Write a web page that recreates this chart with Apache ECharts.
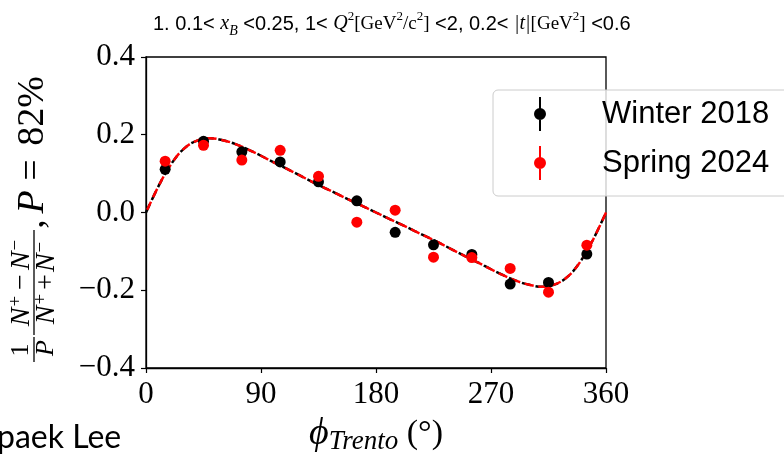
<!DOCTYPE html>
<html>
<head>
<meta charset="utf-8">
<script src="https://cdn.jsdelivr.net/npm/echarts@6/dist/echarts.min.js"></script>
<style>
html,body{margin:0;padding:0;background:#fff;}
#chart{width:784px;height:454px;}
</style>
</head>
<body>
<div id="chart"></div>
<script>
// ---- data ----
const phiBins = [15, 45, 75, 105, 135, 165, 195, 225, 255, 285, 315, 345];
const winter2018 = [0.111, 0.183, 0.156, 0.130, 0.079, 0.030, -0.051, -0.083, -0.108, -0.184, -0.180, -0.107];
const spring2024 = [0.132, 0.173, 0.135, 0.160, 0.093, -0.025, 0.006, -0.115, -0.116, -0.144, -0.205, -0.084];
const fitPhi = [0, 10, 20, 30, 40, 50, 60, 70, 80, 90, 100, 110, 120, 130, 140, 150, 160, 170, 180,
                190, 200, 210, 220, 230, 240, 250, 260, 270, 280, 290, 300, 310, 320, 330, 340, 350, 360];
const fitWinter = [0, 0.069, 0.126, 0.165, 0.185, 0.191, 0.186, 0.176, 0.162, 0.146, 0.129, 0.113, 0.096, 0.079, 0.063, 0.047, 0.031, 0.016, 0,
                   -0.016, -0.031, -0.047, -0.063, -0.079, -0.096, -0.113, -0.129, -0.146, -0.162, -0.176, -0.186, -0.191, -0.185, -0.165, -0.126, -0.069, 0];
const fitSpring = [0, 0.069, 0.126, 0.165, 0.185, 0.191, 0.186, 0.176, 0.162, 0.146, 0.129, 0.113, 0.096, 0.079, 0.063, 0.047, 0.031, 0.016, 0,
                   -0.016, -0.031, -0.047, -0.063, -0.079, -0.096, -0.113, -0.129, -0.146, -0.162, -0.176, -0.186, -0.191, -0.185, -0.165, -0.126, -0.069, 0];
const xTickLabels = ['0', '90', '180', '270', '360'];
const yTickLabels = ['\u22120.4', '\u22120.2', '0.0', '0.2', '0.4'];
const seriesNames = ['Winter 2018', 'Spring 2024'];

// ---- chart ----
const chart = echarts.init(document.getElementById('chart'), null, {renderer: 'canvas'});
const SERIF = 'Liberation Serif';
const SANS = 'Liberation Sans';
const errIcon = 'path://M5,0L7,0L7,34L5,34Z M0,17A6,6,0,1,1,12,17A6,6,0,1,1,0,17Z';

function pairs(xs, ys) { return xs.map((x, i) => [x, ys[i]]); }

const yLabelGroup = {
  type: 'group', x: 0, y: 360, rotation: Math.PI / 2, silent: true,
  children: [
    {type: 'text', x: 10, y: 21.5, style: {text: '1', font: '26px "Liberation Serif"', fill: '#000', align: 'center', verticalAlign: 'middle'}},
    {type: 'text', x: 12, y: 46.5, style: {text: 'P', font: 'italic 26px "Liberation Serif"', fill: '#000', align: 'center', verticalAlign: 'middle'}},
    {type: 'line', shape: {x1: -2, y1: 34, x2: 23, y2: 34}, style: {stroke: '#000', lineWidth: 1.3}},
    {type: 'text', x: 78, y: 22, style: {
      text: '{i|N}{p|+}{o|\u2212}{i|N}{p|\u2212}', align: 'center', verticalAlign: 'middle', fill: '#000',
      rich: {
        i: {fontFamily: SERIF, fontStyle: 'italic', fontSize: 28, lineHeight: 30},
        p: {fontFamily: SERIF, fontSize: 19, verticalAlign: 'top', padding: [0, 2, 0, 1]},
        o: {fontFamily: SERIF, fontSize: 28, padding: [0, 4], lineHeight: 30}
      }}},
    {type: 'line', shape: {x1: 25, y1: 34, x2: 130, y2: 34}, style: {stroke: '#000', lineWidth: 1.3}},
    {type: 'text', x: 78, y: 47, style: {
      text: '{i|N}{p|+}{o|+}{i|N}{p|\u2212}', align: 'center', verticalAlign: 'middle', fill: '#000',
      rich: {
        i: {fontFamily: SERIF, fontStyle: 'italic', fontSize: 28, lineHeight: 30},
        p: {fontFamily: SERIF, fontSize: 19, verticalAlign: 'top', padding: [0, 2, 0, 1]},
        o: {fontFamily: SERIF, fontSize: 28, padding: [0, 2], lineHeight: 30}
      }}},
    {type: 'text', x: 136, y: 33, style: {text: ',', font: '38px "Liberation Serif"', fill: '#000', align: 'center', verticalAlign: 'middle'}},
    {type: 'text', x: 158, y: 33, style: {text: 'P', font: 'italic 38px "Liberation Serif"', fill: '#000', align: 'center', verticalAlign: 'middle'}},
    {type: 'text', x: 190, y: 33, style: {text: '=', font: '38px "Liberation Serif"', fill: '#000', align: 'center', verticalAlign: 'middle'}},
    {type: 'text', x: 249, y: 33, style: {text: '82%', font: '38px "Liberation Serif"', fill: '#000', align: 'center', verticalAlign: 'middle'}}
  ]
};

const option = {
  animation: false,
  backgroundColor: '#fff',
  title: {
    left: 148, top: 5,
    text: '{s|1. 0.1< }{m|x}{sub|B}{s| <0.25, 1< }{m|Q}{sup|2}{r|[GeV}{sup|2}{r|/c}{sup|2}{r|]}{s| <2, 0.2< }{m||t|}{r|[GeV}{sup|2}{r|]}{s| <0.6}',
    textStyle: {
      fontWeight: 'normal',
      rich: {
        s: {fontFamily: SANS, fontSize: 20, fontWeight: 'normal', color: '#000', lineHeight: 28},
        m: {fontFamily: SERIF, fontStyle: 'italic', fontWeight: 'normal', fontSize: 20, color: '#000', lineHeight: 28},
        r: {fontFamily: SERIF, fontSize: 19, fontWeight: 'normal', color: '#000', lineHeight: 28},
        sub: {fontFamily: SERIF, fontStyle: 'italic', fontWeight: 'normal', fontSize: 14, color: '#000', verticalAlign: 'bottom', lineHeight: 14},
        sup: {fontFamily: SERIF, fontSize: 13, fontWeight: 'normal', color: '#000', verticalAlign: 'top', lineHeight: 14}
      }
    }
  },
  legend: {
    data: seriesNames.map(n => ({name: n, icon: errIcon})),
    orient: 'vertical',
    left: 493, top: 90,
    itemWidth: 12, itemHeight: 34, itemGap: 15,
    padding: [7, 30, 16, 41],
    backgroundColor: 'rgba(255,255,255,0.8)',
    borderColor: '#cccccc', borderWidth: 1, borderRadius: 5,
    selectedMode: false,
    textStyle: {fontFamily: SANS, fontSize: 31, color: '#000', padding: [0, 0, 0, 51]}
  },
  grid: {left: 146, right: 178, top: 57, bottom: 86, show: true, borderColor: '#000', borderWidth: 1.3,
         backgroundColor: 'transparent', containLabel: false, outerBoundsMode: 'none'},
  xAxis: {
    type: 'value', min: 0, max: 360, interval: 90,
    axisLine: {show: true, onZero: false, lineStyle: {color: '#000', width: 1.3}},
    axisTick: {show: true, inside: false, length: 5, lineStyle: {color: '#000', width: 1.2}},
    axisLabel: {margin: 11, color: '#000', fontFamily: SERIF, fontSize: 31,
      formatter: v => xTickLabels[Math.round(v / 90)]},
    splitLine: {show: false},
    name: '{p|\u03d5}{t|Trento}{r| (\u00b0)}',
    nameLocation: 'middle', nameGap: 39,
    nameTextStyle: {
      rich: {
        p: {fontFamily: SERIF, fontStyle: 'italic', fontSize: 38, color: '#000', lineHeight: 44},
        t: {fontFamily: SERIF, fontStyle: 'italic', fontSize: 27, color: '#000', verticalAlign: 'bottom', lineHeight: 26},
        r: {fontFamily: SERIF, fontSize: 34, color: '#000', lineHeight: 44}
      }
    }
  },
  yAxis: {
    type: 'value', min: -0.4, max: 0.4, interval: 0.2,
    axisLine: {show: true, onZero: false, lineStyle: {color: '#000', width: 1.3}},
    axisTick: {show: true, inside: false, length: 5, lineStyle: {color: '#000', width: 1.2}},
    axisLabel: {margin: 11, color: '#000', fontFamily: SERIF, fontSize: 31,
      formatter: v => yTickLabels[Math.round((v + 0.4) / 0.2)]},
    splitLine: {show: false}
  },
  graphic: [
    yLabelGroup,
    {type: 'text', left: -3, top: 422, silent: true,
     style: {text: 'paek Lee', font: '32px Lato', fill: '#000'}}
  ],
  series: [
    {name: 'fitWinter', type: 'line', data: pairs(fitPhi, fitWinter), smooth: 0.4, showSymbol: false, symbol: 'none',
     lineStyle: {color: '#000', width: 2.5, type: [9, 5]}, z: 2, silent: true},
    {name: 'fitSpring', type: 'line', data: pairs(fitPhi, fitSpring), smooth: 0.4, showSymbol: false, symbol: 'none',
     lineStyle: {color: '#ff0000', width: 2.5, type: [9, 5], dashOffset: 11}, z: 3, silent: true},
    {name: seriesNames[0], type: 'scatter', data: pairs(phiBins, winter2018), symbol: 'circle', symbolSize: 11,
     itemStyle: {color: '#000', opacity: 1}, z: 4},
    {name: seriesNames[1], type: 'scatter', data: pairs(phiBins, spring2024), symbol: 'circle', symbolSize: 11,
     itemStyle: {color: '#ff0000', opacity: 1}, z: 5}
  ]
};
chart.setOption(option);
</script>
</body>
</html>
